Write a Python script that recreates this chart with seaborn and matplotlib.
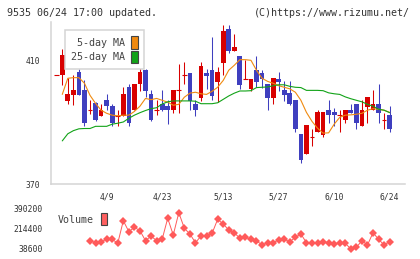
import numpy as np
import pandas as pd
import matplotlib.pyplot as plt
import seaborn as sns
from matplotlib.patches import Patch

sns.set_style('white')
plt.rcParams['font.family'] = ['DejaVu Sans Mono', 'DejaVu Sans']

title_left = '9535 06/24 17:00 updated.'
title_right = '(C)https://www.rizumu.net/'

# daily OHLC, 61 trading days (3/27 .. 6/24)
opens = [405.2, 405.2, 396.9, 398.8, 406.2, 400.5, 394.1, 396.2, 391.9, 397.1,
         395.2, 391.9, 391.9, 401.4, 394.1, 402.3, 407.0, 399.0, 394.1, 396.0,
         395.3, 393.9, 400.3, 405.2, 406.0, 396.0, 397.8, 406.0, 407.0, 403.0,
         409.1, 420.2, 413.0, 411.3, 404.1, 400.9, 407.0, 406.0, 402.3, 398.0,
         404.1, 400.3, 399.3, 397.1, 386.1, 379.7, 385.1, 386.9, 385.8, 394.1,
         393.3, 392.3, 390.9, 394.1, 396.0, 388.7, 395.0, 394.1, 396.0, 390.9,
         392.3]
highs = [405.2, 413.5, 404.2, 405.2, 407.3, 403.5, 397.1, 396.5, 396.0, 399.0,
         396.0, 394.1, 401.4, 402.2, 402.5, 408.1, 407.3, 400.3, 397.3, 400.3,
         397.1, 400.3, 408.9, 409.3, 406.0, 397.1, 409.3, 407.1, 417.5, 407.8,
         421.3, 421.3, 418.4, 411.3, 410.2, 404.1, 411.5, 407.0, 402.3, 404.2,
         406.2, 403.3, 403.3, 397.1, 386.1, 389.0, 388.0, 394.1, 393.3, 397.1,
         394.5, 394.1, 394.1, 396.0, 396.0, 397.1, 398.0, 400.3, 402.3, 393.0,
         395.2]
lows = [405.2, 402.0, 396.0, 395.5, 398.7, 388.7, 392.8, 390.3, 391.9, 393.9,
        388.7, 388.7, 391.9, 388.7, 394.1, 400.1, 398.2, 390.4, 392.3, 393.5,
        389.6, 393.0, 393.1, 402.5, 393.9, 392.0, 396.8, 400.6, 397.3, 396.6,
        405.2, 412.2, 413.0, 400.9, 404.1, 400.1, 401.5, 401.2, 393.9, 396.0,
        400.1, 396.9, 395.5, 386.9, 376.9, 379.7, 382.3, 386.9, 385.1, 389.8,
        388.7, 386.9, 389.8, 393.0, 388.0, 388.7, 389.8, 394.1, 389.8, 388.0,
        386.9]
closes = [405.2, 411.6, 399.0, 400.3, 398.7, 389.8, 394.1, 390.6, 394.1, 395.2,
          389.8, 391.9, 399.0, 389.8, 402.5, 406.2, 400.1, 390.9, 394.1, 394.1,
          393.9, 400.3, 400.3, 405.2, 397.0, 393.9, 408.1, 404.9, 398.4, 406.2,
          419.5, 413.0, 414.3, 401.9, 404.1, 404.1, 403.0, 404.1, 398.0, 404.2,
          403.0, 398.7, 395.8, 388.0, 378.0, 389.0, 385.1, 393.3, 393.3, 392.3,
          392.3, 392.3, 394.1, 393.0, 389.8, 394.1, 398.0, 396.0, 393.0, 390.9,
          388.0]
ma5 = [np.nan, 399.0, 404.2, 404.4, 404.4, 402.6, 398.7, 396.1, 393.9, 392.9,
       392.3, 392.1, 392.3, 392.3, 393.5, 395.2, 397.7, 397.3, 397.7, 397.1,
       396.5, 395.5, 395.8, 398.1, 399.4, 399.7, 399.2, 399.0, 400.0, 401.3,
       403.5, 406.8, 408.4, 410.2, 410.2, 410.0, 406.8, 404.2, 403.2, 402.6,
       401.8, 401.3, 400.8, 399.7, 397.1, 393.2, 390.3, 388.1, 386.5, 386.6,
       389.4, 391.6, 392.3, 392.4, 392.6, 392.9, 393.9, 394.4, 394.2, 393.9,
       393.2]
ma25 = [np.nan, 384.0, 386.3, 387.3, 387.9, 388.0, 388.0, 388.7, 388.7, 388.7,
        389.4, 389.7, 390.1, 391.3, 392.3, 393.1, 393.8, 394.4, 394.7, 395.9,
        396.6, 396.9, 396.9, 396.9, 396.9, 396.8, 396.0, 396.0, 396.0, 396.3,
        397.4, 398.5, 399.4, 400.1, 400.1, 400.2, 401.2, 401.3, 401.4, 401.8,
        402.1, 402.1, 401.6, 401.3, 401.2, 400.3, 400.3, 400.3, 400.2, 399.5,
        399.2, 399.0, 398.2, 397.6, 397.1, 396.6, 395.8, 395.2, 394.2, 393.9,
        393.1]
volume = [np.nan, np.nan, np.nan, np.nan, np.nan, np.nan, 111600, 94000, 102800, 123900,
          123900, 88700, 287400, 190700, 229400, 199500, 111600, 152900, 111600, 123900,
          308500, 161700, 357700, 220500, 170500, 94000, 152900, 152900, 176600, 299700,
          258400, 205600, 181900, 132700, 141400, 123900, 111600, 73800, 94000, 94000,
          117700, 123900, 102800, 141400, 170500, 94000, 94000, 94000, 102800, 94000,
          82600, 94000, 88700, 38600, 53500, 111600, 73800, 181900, 123900, 73800,
          102800]
date_labels = ['4/9', '4/23', '5/13', '5/27', '6/10', '6/24']
date_days = [9, 19, 30, 40, 50, 60]
vol_ticks = [38600, 214400, 390200]

UP, DOWN = '#d80000', '#3f3fbf'
C5, C25 = '#f08a10', '#12a318'
VOLC = '#ff5a5a'
GRID = '#d4d4d4'
TXT = '#333333'

df = pd.DataFrame({'day': np.arange(len(opens)), 'open': opens, 'high': highs,
                   'low': lows, 'close': closes, 'ma5': ma5, 'ma25': ma25,
                   'volume': volume})
df['up'] = df['close'] >= df['open']

W, H = 420, 259
fig = plt.figure(figsize=(W / 100, H / 100), dpi=100)
ax = fig.add_axes([51 / W, (H - 184.3) / H, 354 / W, 162.3 / H])
axv = fig.add_axes([51 / W, (H - 255) / H, 354 / W, 52 / H])

# candles
bw = 0.85
cols = np.where(df['up'], UP, DOWN)
ax.vlines(df['day'], df['low'], df['high'], colors=cols, linewidth=0.75, zorder=2)
body = (df['close'] - df['open']).abs()
big = body >= 0.3
ax.bar(df['day'][big], body[big], bottom=df[['open', 'close']].min(axis=1)[big],
       width=bw, color=cols[big], linewidth=0, zorder=2)
ax.hlines(df['close'][~big], df['day'][~big] - bw / 2, df['day'][~big] + bw / 2,
          colors=cols[~big], linewidth=0.8, zorder=2)

sns.lineplot(data=df, x='day', y='ma5', ax=ax, color=C5, linewidth=0.8, zorder=3)
sns.lineplot(data=df, x='day', y='ma25', ax=ax, color=C25, linewidth=0.8, zorder=3)

xlo, xhi = -1.03, 62.76
ax.set_xlim(xlo, xhi)
ax.set_ylim(370, 370 + 162.3 / 3.1)
ax.set_xlabel('')
ax.set_ylabel('')
for s in ['top', 'right']:
    ax.spines[s].set_visible(False)
for s in ['left', 'bottom']:
    ax.spines[s].set_color(GRID)
    ax.spines[s].set_linewidth(1.1)
ax.set_yticks([370, 410])
ax.set_yticklabels(['370', '410'])
ax.tick_params(axis='y', direction='inout', length=6, width=1.1, color=GRID,
               pad=5, labelsize=5.8, labelcolor=TXT)
ax.set_xticks(date_days)
ax.set_xticklabels(date_labels)
ax.set_xticks(np.linspace(xlo, xhi, 12), minor=True)
ax.tick_params(axis='x', which='major', length=0, pad=6, labelsize=5.8, labelcolor=TXT)
ax.tick_params(axis='x', which='minor', direction='inout', length=6, width=1.1, color=GRID)

handles = [Patch(facecolor=C5, edgecolor='#444444', linewidth=0.8, label='5-day MA'),
           Patch(facecolor=C25, edgecolor='#444444', linewidth=0.8, label='25-day MA')]
leg = ax.legend(handles=handles, loc='upper left', bbox_to_anchor=(0.0395, 0.9507),
                borderaxespad=0, markerfirst=False, handlelength=0.67, handleheight=1.53,
                handletextpad=0.57, labelspacing=0.2, borderpad=0.62, fontsize=7.2,
                frameon=True, fancybox=False, framealpha=1, edgecolor=GRID, labelcolor='#444444')
leg.get_frame().set_linewidth(1.1)
leg.set_zorder(5)

# volume
sns.lineplot(data=df, x='day', y='volume', ax=axv, color=VOLC, linewidth=0.7,
             marker='D', markersize=3.9, markeredgewidth=0)
axv.set_xlim(xlo, xhi)
axv.set_ylim(38600 - 6 * 8790, 390200 + 6 * 8790)
axv.set_xlabel('')
axv.set_ylabel('')
for s in axv.spines.values():
    s.set_visible(False)
axv.set_xticks([])
axv.set_yticks(vol_ticks)
axv.set_yticklabels([str(v) for v in vol_ticks])
axv.tick_params(axis='y', length=0, pad=5.8, labelsize=5.8, labelcolor=TXT)
axv.patch.set_alpha(0)
vleg = axv.legend(handles=[Patch(facecolor='#ff6060', edgecolor='#444444', linewidth=0.8,
                                 label='Volume')],
                  loc='upper left', bbox_to_anchor=(0.0198, 0.802), borderaxespad=0,
                  borderpad=0, markerfirst=False, handlelength=0.57, handleheight=1.5,
                  handletextpad=0.74, fontsize=7.2, frameon=False, labelcolor='#444444')

fig.text(7 / W, 1 - 12.7 / H, title_left, ha='left', va='center', fontsize=7.2, color=TXT)
fig.text(410 / W, 1 - 12.7 / H, title_right, ha='right', va='center', fontsize=7.2, color=TXT)

fig.savefig('out.png', dpi=100)
